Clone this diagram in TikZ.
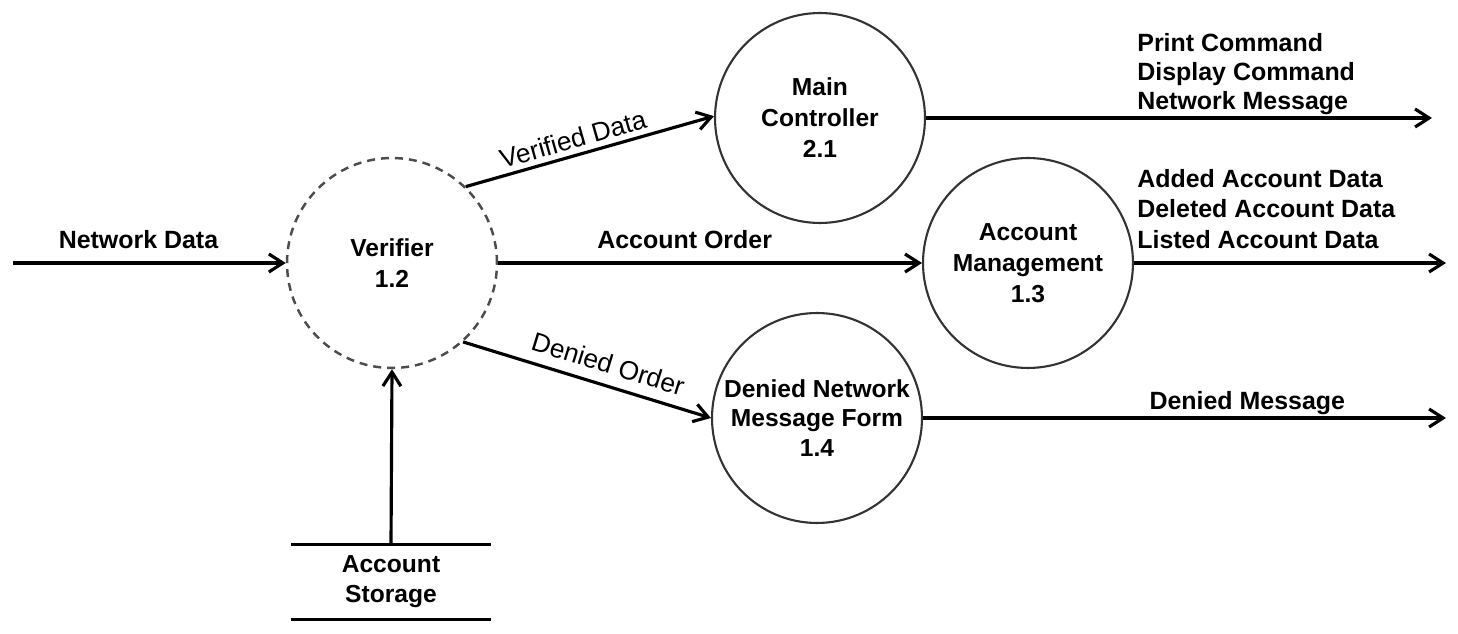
\documentclass[tikz,border=0pt]{standalone}
\usepackage{fontspec}
\setmainfont{Liberation Sans}
\usetikzlibrary{arrows.meta}

\begin{document}
\begin{tikzpicture}[x=0.02cm,y=-0.02cm,
  proc/.style={circle,draw=black!80,line width=1.2pt,minimum size=4.2cm,inner sep=0pt,align=center,font=\bfseries\fontsize{14}{17.6}\selectfont},
  flow/.style={line width=1.8pt,-{Straight Barb[length=0.28cm,width=0.36cm,line width=1.8pt]}},
  lbl/.style={font=\bfseries\fontsize{14.2}{16.5}\selectfont,inner sep=0pt,align=left},
  slab/.style={font=\fontsize{15}{18}\selectfont,sloped,inner sep=0pt}]
\useasboundingbox (0,0) rectangle (1458,634);
\node[proc,draw=black!70,dash pattern=on 0.16cm off 0.12cm,line width=1.4pt] (ver) at (392,263) {Verifier\\1.2};
\node[proc] (mc) at (820,118) {Main\\Controller\\2.1};
\node[proc] (am) at (1028,263) {Account\\Management\\1.3};
\node[proc,font=\bfseries\fontsize{14}{17}\selectfont] (dnm) at (817,418) {Denied Network\\Message Form\\1.4};
\node[lbl,align=center,minimum width=4cm,minimum height=1.5cm,font=\bfseries\fontsize{14}{17}\selectfont] (st) at (391,582) {Account\\Storage};
\draw[line width=1.8pt] (st.north west) -- (st.north east);
\draw[line width=1.8pt] (st.south west) -- (st.south east);
\coordinate (in) at (13,263);
\coordinate (mcout) at (1432,118);
\coordinate (amout) at (1446,263);
\coordinate (dnmout) at (1446,418);
\draw[flow] (in) -- (ver.west) node[lbl,pos=0.46,above=7pt] (ndata) {Network Data};
\draw[flow] (st.north) -- (ver.south);
\draw[flow] (ver.46) -- (mc.179) node[slab,pos=0.45,above=3pt] (vdata) {Verified Data};
\draw[flow] (ver.east) -- (am.west) node[lbl,pos=0.44,above=7pt] (aorder) {Account Order};
\draw[flow] (ver.-48) -- (dnm.west) node[slab,pos=0.56,above=6pt] (dorder) {Denied Order};
\draw[flow] (mc.east) -- (mcout);
\draw[flow] (am.east) -- (amout);
\draw[flow] (dnm.east) -- (dnmout) node[lbl,pos=0.62,above=1pt] (dmsg) {Denied Message};
\node[lbl,anchor=west] (mclist) at (1137,74) {Print Command\\Display Command\\Network Message};
\node[lbl,anchor=west,font=\bfseries\fontsize{14.2}{17.5}\selectfont] (amlist) at (1137,209) {Added Account Data\\Deleted Account Data\\Listed Account Data};
\end{tikzpicture}
\end{document}
